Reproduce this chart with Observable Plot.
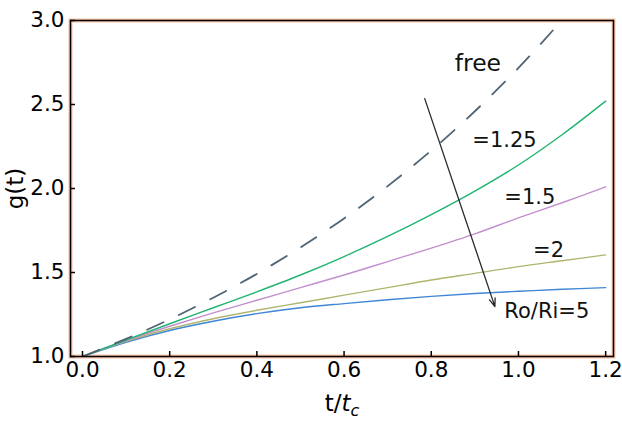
<!DOCTYPE html>
<html><head><meta charset="utf-8">
<script src="https://cdn.jsdelivr.net/npm/d3@7"></script>
<script src="https://cdn.jsdelivr.net/npm/@observablehq/plot@0.6"></script>
<style>body{margin:0;background:#fff}</style>
</head><body><div id="chart"></div>
<script>
const tValues = [0, 0.1, 0.2, 0.3, 0.4, 0.5, 0.6, 0.7, 0.8, 0.9, 1.0, 1.1, 1.2];
const gFree   = [1.0, 1.105, 1.221, 1.350, 1.492, 1.649, 1.822, 2.014, 2.226, 2.460, 2.718, 3.004, 3.320];
const gR125   = [1.0, 1.098, 1.195, 1.290, 1.385, 1.485, 1.595, 1.715, 1.845, 1.985, 2.140, 2.320, 2.520];
const gR15    = [1.0, 1.095, 1.180, 1.260, 1.335, 1.410, 1.485, 1.565, 1.645, 1.730, 1.825, 1.915, 2.010];
const gR2     = [1.0, 1.090, 1.165, 1.225, 1.275, 1.320, 1.365, 1.410, 1.455, 1.495, 1.535, 1.570, 1.605];
const gR5     = [1.0, 1.085, 1.155, 1.210, 1.255, 1.290, 1.315, 1.338, 1.358, 1.375, 1.388, 1.400, 1.410];
const xTicks = [0, 0.2, 0.4, 0.6, 0.8, 1.0, 1.2];
const yTicks = [1.0, 1.5, 2.0, 2.5, 3.0];
const labelTexts = ["free", "=1.25", "=1.5", "=2", "Ro/Ri=5"];
const labelT = [0.907, 0.968, 1.026, 1.069, 1.065];
const labelG = [2.744, 2.290, 1.946, 1.631, 1.268];
const labelSize = [23.5, 21, 21, 21, 21];
const arrowT = [0.785, 0.946];
const arrowG = [2.535, 1.297];

const toRows = arr => tValues.map((t, i) => ({t, g: arr[i]}));
const seriesLine = (arr, stroke, extra = {}) =>
  Plot.line(toRows(arr), {x: "t", y: "g", stroke, strokeWidth: 1.4, curve: "catmull-rom", clip: true, ...extra});

const fmt = d3.format(".1f");
const plot = Plot.plot({
  width: 622, height: 423,
  marginLeft: 70, marginRight: 9, marginTop: 20, marginBottom: 67,
  style: {fontFamily: "DejaVu Sans", fontSize: "21.5px", background: "#fff", color: "#000"},
  x: {domain: [-0.0275, 1.218]},
  y: {domain: [1, 3]},
  marks: [
    Plot.frame({stroke: "#f6c2a6", strokeWidth: 4}),
    seriesLine(gR5, "#3f86d6"),
    seriesLine(gR2, "#b0b56e"),
    seriesLine(gR15, "#c38fce"),
    seriesLine(gR125, "#1fb470"),
    seriesLine(gFree, "#4f6475", {strokeWidth: 1.8, strokeDasharray: "18,17"}),
    Plot.arrow([0], {x1: () => arrowT[0], y1: () => arrowG[0], x2: () => arrowT[1], y2: () => arrowG[1],
      stroke: "#2a2a2a", strokeWidth: 1.3, headLength: 10, headAngle: 40}),
    Plot.text(labelTexts, {x: (d, i) => labelT[i], y: (d, i) => labelG[i], text: d => d,
      fontSize: (d, i) => labelSize[i], fill: "#111"}),
    Plot.frame({stroke: "#000", strokeWidth: 1.5}),
    Plot.axisX(xTicks, {tickSize: -5, tickPadding: 10, tickFormat: fmt, fontSize: 21.5, strokeWidth: 1.5,
      label: "t/tc", labelAnchor: "center", labelOffset: 54, labelArrow: "none"}),
    Plot.axisY(yTicks, {tickSize: -5, tickPadding: 11, tickFormat: fmt, fontSize: 21.5, strokeWidth: 1.5,
      label: "g(t)", labelAnchor: "center", labelOffset: 64, labelArrow: "none"})
  ]
});
document.getElementById("chart").appendChild(plot);
const ns = "http://www.w3.org/2000/svg";
const yl = plot.querySelector('g[aria-label="y-axis label"]');
if (yl) yl.setAttribute("font-size", "23");
const xlg = plot.querySelector('g[aria-label="x-axis label"]');
if (xlg) xlg.setAttribute("font-size", "23");
const xl = plot.querySelector('g[aria-label="x-axis label"] text');
if (xl) {
  xl.textContent = "";
  const a = document.createElementNS(ns, "tspan"); a.textContent = "t/";
  const b = document.createElementNS(ns, "tspan"); b.textContent = "t"; b.setAttribute("font-style", "italic");
  const c = document.createElementNS(ns, "tspan"); c.textContent = "c"; c.setAttribute("font-style", "italic");
  c.setAttribute("font-size", "16"); c.setAttribute("dy", "5");
  xl.append(a, b, c);
}
</script>
</body></html>
